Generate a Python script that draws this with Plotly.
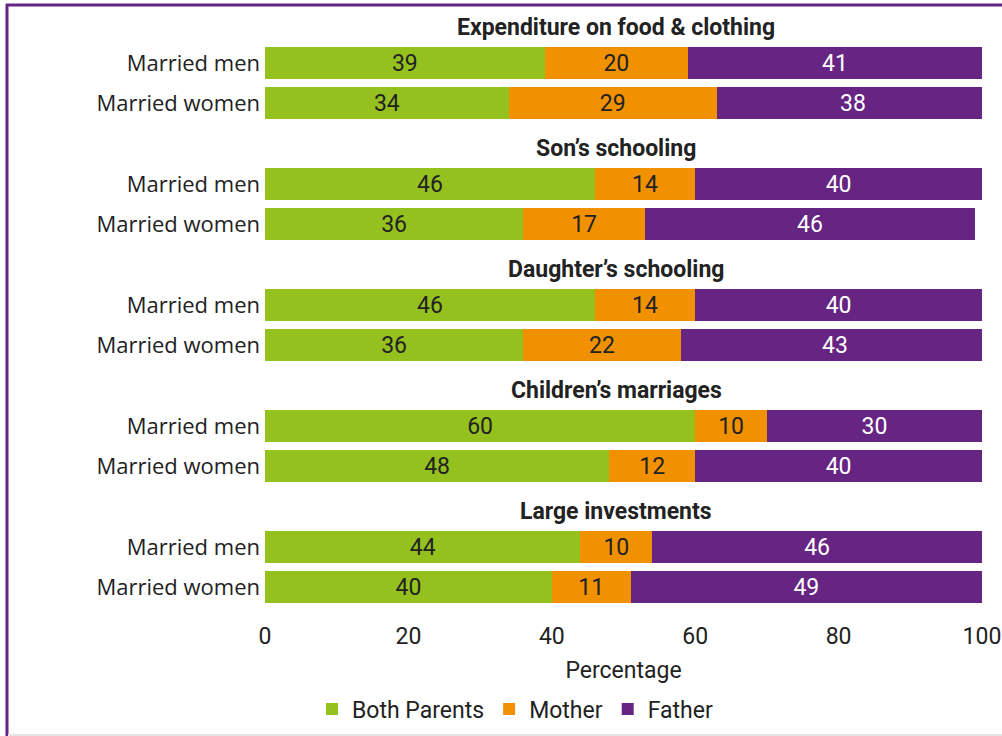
import plotly.graph_objects as go

# ---- data ----
topics = ["Expenditure on food & clothing", "Son\u2019s schooling", "Daughter\u2019s schooling",
          "Children\u2019s marriages", "Large investments"]
respondents = ["Married men", "Married women"]
# values listed topic by topic: [men, women]
both_parents = [39, 34, 46, 36, 46, 36, 60, 48, 44, 40]
mother = [20, 29, 14, 17, 14, 22, 10, 12, 10, 11]
father = [41, 38, 40, 46, 40, 43, 30, 40, 46, 49]
x_ticks = [0, 20, 40, 60, 80, 100]
series_names = ["Both Parents", "Mother", "Father"]

# ---- layout constants ----
W, H = 1002, 736
ML, MR, MT, MB = 265, 20, 0, 126
PLOT_H = H - MT - MB
FIRST_ROW = 63
PITCH = 121
ROW_GAP = 40
TITLE_OFF = 36

GREEN, ORANGE, PURPLE = "#95C11F", "#F29100", "#662483"
TXT = "#222222"

ys, ylabels = [], []
for g in range(len(topics)):
    for r, lab in enumerate(respondents):
        ys.append(FIRST_ROW + g * PITCH + r * ROW_GAP)
        ylabels.append(lab)

fig = go.Figure()
for name, vals, col, tcol in [(series_names[0], both_parents, GREEN, TXT),
                              (series_names[1], mother, ORANGE, TXT),
                              (series_names[2], father, PURPLE, "white")]:
    fig.add_trace(go.Bar(
        y=ys, x=vals, name=name, orientation="h", width=32,
        marker=dict(color=col, line=dict(width=0)),
        text=[str(v) for v in vals], textposition="inside",
        insidetextanchor="middle", textangle=0,
        textfont=dict(family="Roboto", size=23, color=tcol),
        constraintext="none", hoverinfo="skip",
    ))

annotations = []
for g, t in enumerate(topics):
    annotations.append(dict(
        x=49, y=FIRST_ROW + g * PITCH - TITLE_OFF, xref="x", yref="y",
        text="<b>" + t + "</b>", showarrow=False,
        font=dict(family="Roboto", size=23, color=TXT),
        xanchor="center", yanchor="middle"))

def px_x(p):
    return (p - ML) / (W - ML - MR)

def px_y(p):
    return (H - MB - p) / PLOT_H

shapes = [
    dict(type="line", xref="paper", yref="paper", x0=px_x(7), x1=px_x(7),
         y0=px_y(4), y1=px_y(736), line=dict(color=PURPLE, width=3)),
    dict(type="line", xref="paper", yref="paper", x0=px_x(6), x1=px_x(1002),
         y0=px_y(5), y1=px_y(5), line=dict(color=PURPLE, width=3)),
    dict(type="line", xref="paper", yref="paper", x0=px_x(8), x1=px_x(1002),
         y0=px_y(735), y1=px_y(735), line=dict(color="#e6e6e6", width=2)),
]

fig.update_layout(
    width=W, height=H, barmode="stack",
    margin=dict(l=ML, r=MR, t=MT, b=MB),
    plot_bgcolor="white", paper_bgcolor="white",
    showlegend=True, hovermode=False,
    legend=dict(orientation="h", x=px_x(515), y=px_y(709), xanchor="center",
                yanchor="middle", font=dict(family="Roboto", size=23, color=TXT),
                traceorder="normal", itemclick=False),
    annotations=annotations, shapes=shapes,
    xaxis=dict(range=[0, 100], tickvals=x_ticks, showgrid=False, zeroline=False,
               showline=False, ticks="", ticklabelstandoff=10,
               ticklabeloverflow="allow",
               tickfont=dict(family="Roboto", size=23, color=TXT),
               title=dict(text="Percentage", standoff=12,
                          font=dict(family="Roboto", size=23, color=TXT))),
    yaxis=dict(range=[PLOT_H, 0], tickvals=ys, ticktext=ylabels,
               showgrid=False, zeroline=False, showline=False, ticks="",
               ticklabelstandoff=4,
               tickfont=dict(family="Open Sans", size=22, color=TXT)),
)

fig.write_html("out.html", config={"displayModeBar": False},
               post_script="document.body.style.margin='0px';")
